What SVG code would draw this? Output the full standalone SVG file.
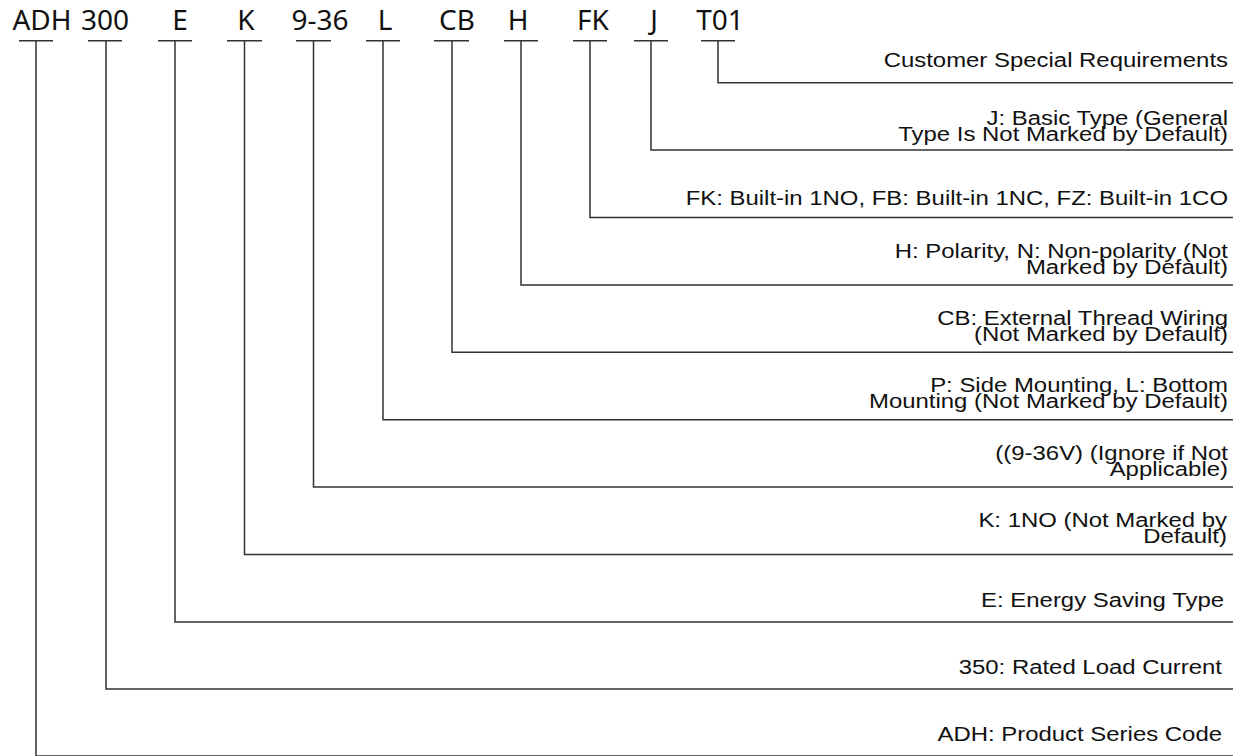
<svg xmlns="http://www.w3.org/2000/svg" width="1243" height="756" viewBox="0 0 1243 756">
<style>
.code{font-family:"Noto Sans","DejaVu Sans",sans-serif;font-size:28px;fill:#111;text-anchor:middle}
.lbl{font-family:"Liberation Sans",Arial,sans-serif;font-size:21px;fill:#111;text-anchor:end}
.ln{stroke:#333;stroke-width:1.5;fill:none}
</style>
<rect width="1243" height="756" fill="#fff"/>
<g id="header">
<text class="code" x="42" y="30">ADH</text>
<text class="code" x="105" y="30">300</text>
<text class="code" x="180" y="30">E</text>
<text class="code" x="246" y="30">K</text>
<text class="code" x="320" y="30">9-36</text>
<text class="code" x="385" y="30">L</text>
<text class="code" x="457" y="30">CB</text>
<text class="code" x="518" y="30">H</text>
<text class="code" x="593" y="30">FK</text>
<text class="code" x="654" y="30">J</text>
<text class="code" x="720" y="30">T01</text>
</g>
<g id="connectors">
<path class="ln" d="M19 40.7H53M36 40.7V756H1233"/>
<path class="ln" d="M88 40.7H122M106 40.7V689H1233"/>
<path class="ln" d="M158 40.7H192M175 40.7V621.9H1233"/>
<path class="ln" d="M227 40.7H262M244.5 40.7V554.5H1233"/>
<path class="ln" d="M296 40.7H331M313.5 40.7V487.1H1233"/>
<path class="ln" d="M366 40.7H400M383 40.7V419.7H1233"/>
<path class="ln" d="M434 40.7H469M452 40.7V352.3H1233"/>
<path class="ln" d="M504 40.7H538M521 40.7V284.9H1233"/>
<path class="ln" d="M573 40.7H607M590 40.7V217.5H1233"/>
<path class="ln" d="M634 40.7H668M651 40.7V150.1H1233"/>
<path class="ln" d="M701 40.7H735M718 40.7V82.7H1233"/>
</g>
<g id="n-t01" transform="translate(1228 67) scale(1.14 1)"><text class="lbl">Customer Special Requirements</text></g>
<g id="n-j" transform="translate(1228 125) scale(1.14 1)"><text class="lbl">J: Basic Type (General</text><text class="lbl" y="16">Type Is Not Marked by Default)</text></g>
<g id="n-fk" transform="translate(1228 205) scale(1.14 1)"><text class="lbl">FK: Built-in 1NO, FB: Built-in 1NC, FZ: Built-in 1CO</text></g>
<g id="n-h" transform="translate(1228 258) scale(1.14 1)"><text class="lbl">H: Polarity, N: Non-polarity (Not</text><text class="lbl" y="16">Marked by Default)</text></g>
<g id="n-cb" transform="translate(1228 325) scale(1.14 1)"><text class="lbl">CB: External Thread Wiring</text><text class="lbl" y="16">(Not Marked by Default)</text></g>
<g id="n-l" transform="translate(1228 392) scale(1.14 1)"><text class="lbl">P: Side Mounting, L: Bottom</text><text class="lbl" y="16">Mounting (Not Marked by Default)</text></g>
<g id="n-936" transform="translate(1228 460) scale(1.14 1)"><text class="lbl">((9-36V) (Ignore if Not</text><text class="lbl" y="16">Applicable)</text></g>
<g id="n-k" transform="translate(1227 527) scale(1.14 1)"><text class="lbl">K: 1NO (Not Marked by</text><text class="lbl" y="16">Default)</text></g>
<g id="n-e" transform="translate(1224 607) scale(1.14 1)"><text class="lbl">E: Energy Saving Type</text></g>
<g id="n-300" transform="translate(1222 674) scale(1.14 1)"><text class="lbl">350: Rated Load Current</text></g>
<g id="n-adh" transform="translate(1222 741) scale(1.14 1)"><text class="lbl">ADH: Product Series Code</text></g>
</svg>
